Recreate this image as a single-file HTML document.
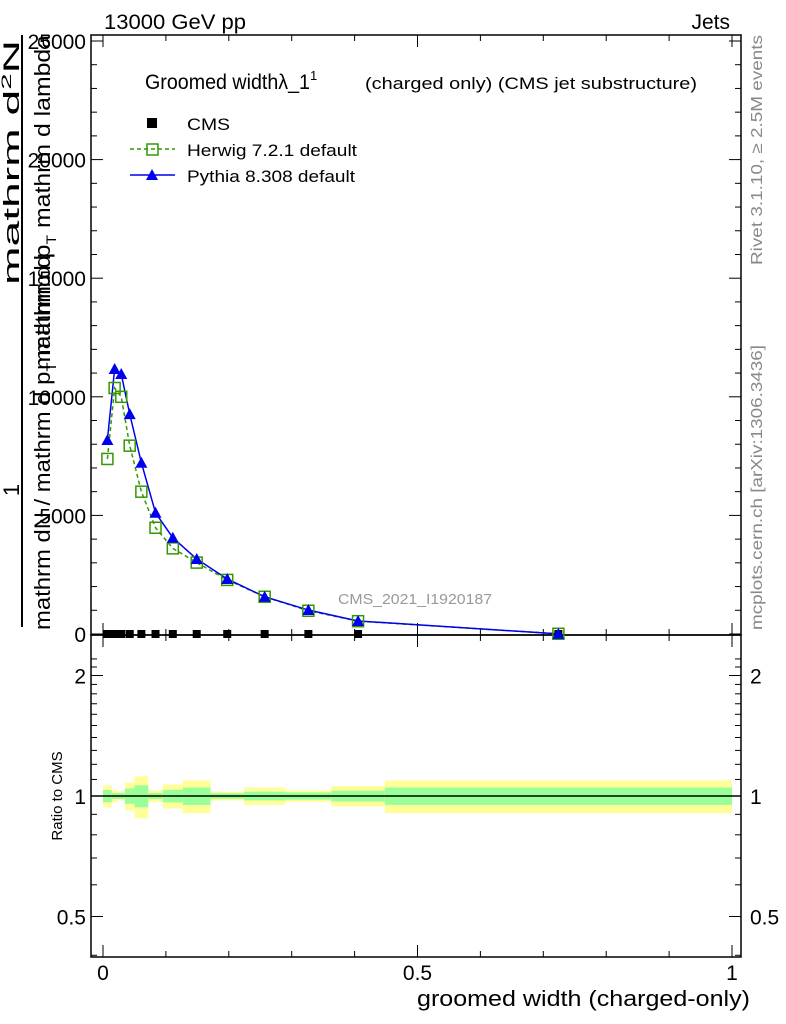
<!DOCTYPE html>
<html><head><meta charset="utf-8"><style>
body{margin:0;background:#fff}
svg{display:block;font-family:"Liberation Sans",sans-serif}
</style></head><body>
<svg id="c" width="786" height="1024" viewBox="0 0 786 1024">
<g id="ratioBands"></g>
<g id="axes"></g>
<g id="series"></g>
<text x="104" y="29" font-size="21" textLength="142" lengthAdjust="spacingAndGlyphs">13000 GeV pp</text>
<text x="730" y="29" font-size="21" text-anchor="end">Jets</text>
<text x="145" y="89" font-size="21"><tspan textLength="165" lengthAdjust="spacingAndGlyphs">Groomed widthλ_1</tspan><tspan font-size="13" dy="-9">1</tspan><tspan font-size="17" dy="9" x="365" textLength="332" lengthAdjust="spacingAndGlyphs">(charged only) (CMS jet substructure)</tspan></text>
<g>
<rect x="147" y="118" width="10" height="10" fill="#000"/>
<text x="187" y="130" font-size="17" textLength="43" lengthAdjust="spacingAndGlyphs">CMS</text>
<line x1="130" y1="149" x2="175" y2="149" stroke="#339900" stroke-width="1.5" stroke-dasharray="4,3"/>
<rect x="147" y="144" width="11" height="11" fill="none" stroke="#339900" stroke-width="1.5"/>
<text x="187" y="156" font-size="17" textLength="170" lengthAdjust="spacingAndGlyphs">Herwig 7.2.1 default</text>
<line x1="130" y1="175" x2="175" y2="175" stroke="#0000ee" stroke-width="1.5"/>
<polygon points="152,169 146,180 158,180" fill="#0000ee"/>
<text x="187" y="182" font-size="17" textLength="168" lengthAdjust="spacingAndGlyphs">Pythia 8.308 default</text>
</g>
<text x="415" y="604" font-size="15" fill="#999" text-anchor="middle" textLength="154" lengthAdjust="spacingAndGlyphs">CMS_2021_I1920187</text>
<g>
<line x1="22" y1="35" x2="22" y2="627" stroke="#000" stroke-width="2"/>
<text transform="translate(19,490) rotate(-90)" font-size="22" text-anchor="middle">1</text>
<text transform="translate(19,40) rotate(-90)" font-size="22" text-anchor="end" textLength="245" lengthAdjust="spacingAndGlyphs">mathrm d<tspan font-size="14" dy="-8">2</tspan><tspan dy="8">N</tspan></text>
<text transform="translate(50,35) rotate(-90)" font-size="22" text-anchor="end" textLength="335" lengthAdjust="spacingAndGlyphs">mathrm d p<tspan font-size="14" dy="6">T</tspan><tspan dy="-6"> mathrm d lambda</tspan></text>
<text transform="translate(50,630) rotate(-90)" font-size="22" textLength="375" lengthAdjust="spacingAndGlyphs">mathrm dN / mathrm d p<tspan font-size="14" dy="6">T</tspan><tspan dy="-6"> mathrm d</tspan></text>
</g>
<text transform="translate(762,265) rotate(-90)" font-size="16" fill="#888" textLength="230" lengthAdjust="spacingAndGlyphs">Rivet 3.1.10, ≥ 2.5M events</text>
<text transform="translate(762,630) rotate(-90)" font-size="16" fill="#888" textLength="285" lengthAdjust="spacingAndGlyphs">mcplots.cern.ch [arXiv:1306.3436]</text>
<text transform="translate(62,796) rotate(-90)" font-size="15" text-anchor="middle">Ratio to CMS</text>
<text x="750" y="1006" font-size="22" text-anchor="end" textLength="333" lengthAdjust="spacingAndGlyphs">groomed width (charged-only)</text>
</svg>
<script>
const binEdges=[0,0.014,0.023,0.035,0.05,0.072,0.095,0.127,0.171,0.224,0.29,0.363,0.448,1.0];
const pythiaVals=[8180,11170,10960,9270,7220,5110,4060,3160,2320,1570,1010,550,5];
const herwigVals=[7380,10370,10000,7940,6000,4480,3610,3010,2280,1570,980,540,10];
const cmsVals=[0,0,0,0,0,0,0,0,0,0,0,0,0];
const statErr=[0.035,0.017,0.017,0.044,0.063,0.017,0.036,0.05,0.016,0.025,0.021,0.031,0.05];
const totErr=[0.063,0.036,0.025,0.08,0.12,0.033,0.069,0.094,0.025,0.05,0.033,0.059,0.094];
const yTicks=[0,5000,10000,15000,20000,25000];
const yTickLabels=["0","5000","10000","15000","20000","25000"];
const xTicks=[0,0.5,1];
const xTickLabels=["0","0.5","1"];
const rTicks=[0.5,1,2];
const rTickLabels=["0.5","1","2"];

const NS="http://www.w3.org/2000/svg";
const L=91,R=741,T=35,MB=635,RB=957;
const X=v=>103+v*629;
const Y=v=>634-v*0.02372;
const RY=r=>796-Math.log2(r)*120.5;
function mk(tag,attrs,parent){const e=document.createElementNS(NS,tag);for(const k in attrs)e.setAttribute(k,attrs[k]);parent.appendChild(e);return e;}
const ax=document.getElementById('axes'),se=document.getElementById('series'),rb=document.getElementById('ratioBands');

for(let i=0;i<totErr.length;i++){
 const x0=X(binEdges[i]),x1=X(binEdges[i+1]);
 const y=mk('rect',{x:x0,y:RY(1+totErr[i]),width:x1-x0,height:RY(1-totErr[i])-RY(1+totErr[i]),fill:'#ffff99'},rb);
 
 
 const g=mk('rect',{x:x0,y:RY(1+statErr[i]),width:x1-x0,height:RY(1-statErr[i])-RY(1+statErr[i]),fill:'#99ff99'},rb);
 
 
}
mk('rect',{x:L,y:T,width:R-L,height:MB-T,fill:'none',stroke:'#000','stroke-width':1.5},ax);
mk('rect',{x:L,y:MB,width:R-L,height:RB-MB,fill:'none',stroke:'#000','stroke-width':1.5},ax);
mk('line',{x1:L,x2:R,y1:RY(1),y2:RY(1),stroke:'#000','stroke-width':1.5},ax);
for(let v=0;v<=25000;v+=1000){const maj=v%5000===0,len=maj?12:6;
 mk('line',{x1:L,x2:L+len,y1:Y(v),y2:Y(v),stroke:'#000'},ax);
 mk('line',{x1:R,x2:R-len,y1:Y(v),y2:Y(v),stroke:'#000'},ax);}
yTicks.forEach((v,i)=>{const t=mk('text',{x:86,y:Y(v)+8,'font-size':21,'text-anchor':'end'},ax);t.textContent=yTickLabels[i];
 
 });
for(let k=0;k<=10;k++){const v=k/10,maj=k%5===0,len=maj?12:6;
 [[MB,-1],[T,1],[RB,-1],[MB,1]].forEach(([y0,d])=>mk('line',{x1:X(v),x2:X(v),y1:y0,y2:y0+d*len,stroke:'#000'},ax));}
xTicks.forEach((v,i)=>{const t=mk('text',{x:X(v),y:980,'font-size':21,'text-anchor':'middle'},ax);t.textContent=xTickLabels[i];
 
 });
for(let k=4;k<=22;k++){const r=k/10;if(RY(r)<MB||RY(r)>RB)continue;const maj=rTicks.includes(r),len=maj?12:6;
 mk('line',{x1:L,x2:L+len,y1:RY(r),y2:RY(r),stroke:'#000'},ax);
 mk('line',{x1:R,x2:R-len,y1:RY(r),y2:RY(r),stroke:'#000'},ax);}
rTicks.forEach((r,i)=>{const a=mk('text',{x:86,y:RY(r)+8,'font-size':21,'text-anchor':'end'},ax);a.textContent=rTickLabels[i];
 
 
 const b=mk('text',{x:750,y:RY(r)+8,'font-size':21},ax);b.textContent=rTickLabels[i];
 
 });
const mids=binEdges.slice(0,-1).map((e,i)=>(e+binEdges[i+1])/2);
const hp=mk('polyline',{points:mids.map((m,i)=>X(m)+','+Y(herwigVals[i])).join(' '),fill:'none',stroke:'#339900','stroke-width':1.5,'stroke-dasharray':'4,3'},se);


const pp=mk('polyline',{points:mids.map((m,i)=>X(m)+','+Y(pythiaVals[i])).join(' '),fill:'none',stroke:'#0000ee','stroke-width':1.5},se);


mids.forEach((m,i)=>{
 const x=X(m);
 const c=mk('rect',{x:x-4,y:Y(cmsVals[i])-4,width:8,height:8,fill:'#000'},se);
 
 
 const h=mk('rect',{x:x-5.5,y:Y(herwigVals[i])-5.5,width:11,height:11,fill:'none',stroke:'#339900','stroke-width':1.5},se);
 
 
 const y=Y(pythiaVals[i]);
 const p=mk('polygon',{points:`${x},${y-6} ${x-6},${y+5} ${x+6},${y+5}`,fill:'#0000ee'},se);
 
 
});
</script>
</body></html>
